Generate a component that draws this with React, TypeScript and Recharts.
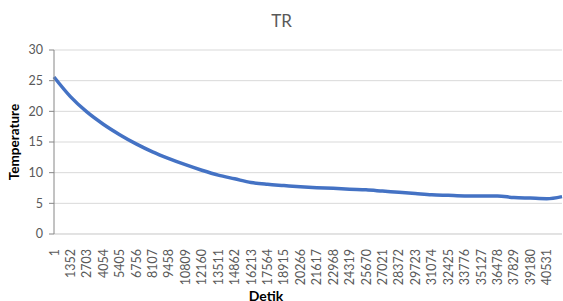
import { LineChart, Line, XAxis, YAxis, CartesianGrid, Label } from 'recharts';

// seconds (Detik) sampled along the curve and read temperatures
const seconds = [
    1, 1352, 2703, 4054, 5405, 6756, 8107, 9458, 10809, 12160, 13511, 14862, 16213, 17564, 18915,
    20266, 21617, 22968, 24319, 25670, 27021, 28372, 29723, 31074, 32425, 33776, 35127, 36478,
    37829, 39180, 40531, 41790,
];
const temperature = [
    25.6, 22.4, 19.9, 17.9, 16.2, 14.7, 13.4, 12.3, 11.3, 10.4, 9.6, 9.0, 8.4, 8.1, 7.9,
    7.7, 7.55, 7.45, 7.3, 7.2, 7.0, 6.8, 6.6, 6.4, 6.3, 6.2, 6.2, 6.2,
    5.95, 5.85, 5.75, 6.1,
];
const xTicks = [
    1, 1352, 2703, 4054, 5405, 6756, 8107, 9458, 10809, 12160, 13511, 14862, 16213, 17564, 18915,
    20266, 21617, 22968, 24319, 25670, 27021, 28372, 29723, 31074, 32425, 33776, 35127, 36478,
    37829, 39180, 40531,
];
const yTicks = [0, 5, 10, 15, 20, 25, 30];

const data = seconds.map((s, i) => ({ detik: s, temp: temperature[i] }));

const FONT = 'Lato, "Open Sans", sans-serif';

function XTick(props: any) {
    const { x, y, payload } = props;
    return (
        <text
            x={x}
            y={y}
            transform={`rotate(-90, ${x}, ${y})`}
            textAnchor="end"
            dominantBaseline="central"
            fill="#595959"
            fontSize={12.5}
            fontFamily={FONT}
        >
            {payload.value}
        </text>
    );
}

export default function App() {
    return (
        <div style={{ position: 'absolute', left: 0, top: 0, width: 563, height: 301, background: '#fff', overflow: 'hidden' }}>
            <div
                style={{
                    position: 'absolute', left: 0, width: 563, top: 10, textAlign: 'center',
                    fontFamily: FONT, fontSize: 17, color: '#595959',
                }}
            >
                TR
            </div>
            <LineChart width={563} height={301} data={data} margin={{ top: 50, right: 1, bottom: 0, left: 0 }}>
                <CartesianGrid vertical={false} stroke="#d9d9d9" />
                <XAxis
                    dataKey="detik"
                    type="number"
                    domain={[1, 41790]}
                    ticks={xTicks}
                    interval={0}
                    tick={<XTick />}
                    tickLine={false}
                    tickMargin={9}
                    height={67}
                    stroke="#d9d9d9"
                />
                <YAxis
                    domain={[0, 30]}
                    ticks={yTicks}
                    width={54}
                    stroke="#868686"
                    tickSize={5}
                    tickMargin={6}
                    tick={{ fill: '#595959', fontSize: 12.5, fontFamily: FONT }}
                >
                    <Label
                        value="Temperature"
                        angle={-90}
                        position="insideLeft"
                        offset={14}
                        style={{ textAnchor: 'middle' }}
                        fill="#000"
                        fontWeight="bold"
                        fontSize={13.5}
                        fontFamily={FONT}
                    />
                </YAxis>
                <Line
                    type="monotone"
                    dataKey="temp"
                    stroke="#4472c4"
                    strokeWidth={3.5}
                    dot={false}
                    isAnimationActive={false}
                />
            </LineChart>
            <div
                style={{
                    position: 'absolute', left: 216, width: 100, top: 287, textAlign: 'center',
                    fontFamily: FONT, fontSize: 14, fontWeight: 'bold', color: '#000',
                }}
            >
                Detik
            </div>
        </div>
    );
}
